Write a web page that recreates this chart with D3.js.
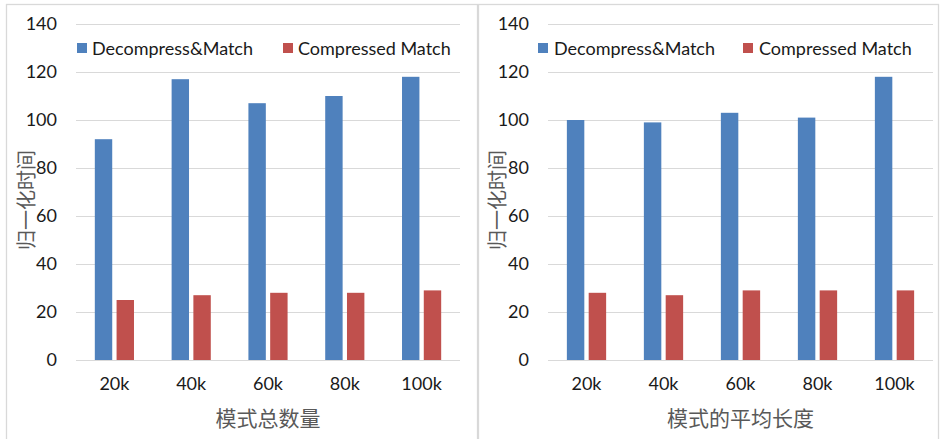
<!DOCTYPE html>
<html>
<head>
<meta charset="utf-8">
<script src="https://cdn.jsdelivr.net/npm/d3@7"></script>
<style>
  html, body { margin: 0; padding: 0; background: #fff; }
  svg { display: block; }
</style>
</head>
<body>
<svg id="chart" width="940" height="439"></svg>
<script>
// ---- data ----
const categories = ["20k", "40k", "60k", "80k", "100k"];
const seriesNames = ["Decompress&Match", "Compressed Match"];
const decompressLeft = [92, 117, 107, 110, 118];
const compressedLeft = [25, 27, 28, 28, 29];
const decompressRight = [100, 99, 103, 101, 118];
const compressedRight = [28, 27, 29, 29, 29];
const yTicks = [0, 20, 40, 60, 80, 100, 120, 140];
const yTitle = "归一化时间";
const xTitleLeft = "模式总数量";
const xTitleRight = "模式的平均长度";

// ---- layout ----
const colors = ["#4F81BD", "#C0504D"];
const latin = "Lato, 'Open Sans', sans-serif";
const cjk = "'Noto Sans CJK SC', sans-serif";
const svg = d3.select("#chart");

const panels = [
  { box: [6.5, 4.5, 471, 460], plot: [76, 460], yTitleX: 27,
    legend: [[77, 92], [283, 298]], xTitle: xTitleLeft,
    series: [decompressLeft, compressedLeft] },
  { box: [478.5, 4.5, 460, 460], plot: [548, 933], yTitleX: 498,
    legend: [[538, 554], [743, 759]], xTitle: xTitleRight,
    series: [decompressRight, compressedRight] }
];

const yTop = 24, yBottom = 360;

panels.forEach(p => {
  const g = svg.append("g");
  g.append("rect")
    .attr("x", p.box[0]).attr("y", p.box[1])
    .attr("width", p.box[2]).attr("height", p.box[3])
    .attr("fill", "none").attr("stroke", "#d9d9d9").attr("stroke-width", 1.3);

  const x = d3.scaleBand().domain(categories).range(p.plot).padding(0);
  const bw = x.bandwidth();
  const xs = d3.scaleBand().domain([0, 1]).range([bw * 0.245, bw * 0.755]).paddingInner(0.2);
  const y = d3.scaleLinear().domain([0, 140]).range([yBottom, yTop]);

  // gridlines
  g.selectAll("line.grid").data(yTicks).join("line")
    .attr("class", "grid")
    .attr("x1", p.plot[0]).attr("x2", p.plot[1])
    .attr("y1", d => Math.round(y(d)) + 0.5).attr("y2", d => Math.round(y(d)) + 0.5)
    .attr("stroke", "#d9d9d9").attr("stroke-width", 1);

  // y tick labels via axis
  const yAxis = d3.axisLeft(y).tickValues(yTicks).tickSize(0).tickPadding(19);
  const ya = g.append("g").attr("transform", `translate(${p.plot[0]},0)`).call(yAxis);
  ya.select(".domain").remove();
  ya.selectAll("text").attr("font-family", latin).attr("font-size", 18).attr("fill", "#1a1a1a");

  // x tick labels via axis
  const xAxis = d3.axisBottom(x).tickSize(0).tickPadding(17);
  const xa = g.append("g").attr("transform", `translate(0,${yBottom})`).call(xAxis);
  xa.select(".domain").remove();
  xa.selectAll("text").attr("font-family", latin).attr("font-size", 18).attr("fill", "#1a1a1a");

  // bars
  p.series.forEach((vals, si) => {
    g.selectAll(`rect.s${si}`).data(vals).join("rect")
      .attr("class", `s${si}`)
      .attr("x", (d, i) => x(categories[i]) + xs(si))
      .attr("width", xs.bandwidth())
      .attr("y", d => y(d))
      .attr("height", d => y(0) - y(d))
      .attr("fill", colors[si]);
  });

  // legend
  seriesNames.forEach((name, si) => {
    g.append("rect")
      .attr("x", p.legend[si][0]).attr("y", 43)
      .attr("width", 10).attr("height", 10)
      .attr("fill", colors[si]);
    g.append("text")
      .attr("x", p.legend[si][1]).attr("y", 54.5)
      .attr("font-family", latin).attr("font-size", 18)
      .attr("fill", "#1a1a1a")
      .text(name);
  });

  // axis titles
  g.append("text")
    .attr("x", (p.plot[0] + p.plot[1]) / 2).attr("y", 426)
    .attr("text-anchor", "middle")
    .attr("font-family", cjk).attr("font-size", 21).attr("fill", "#595959")
    .text(p.xTitle);
  g.append("text")
    .attr("transform", `translate(${p.yTitleX + 7},200) rotate(-90)`)
    .attr("text-anchor", "middle")
    .attr("font-family", cjk).attr("font-size", 20).attr("fill", "#595959")
    .text(yTitle);
});
</script>
</body>
</html>
